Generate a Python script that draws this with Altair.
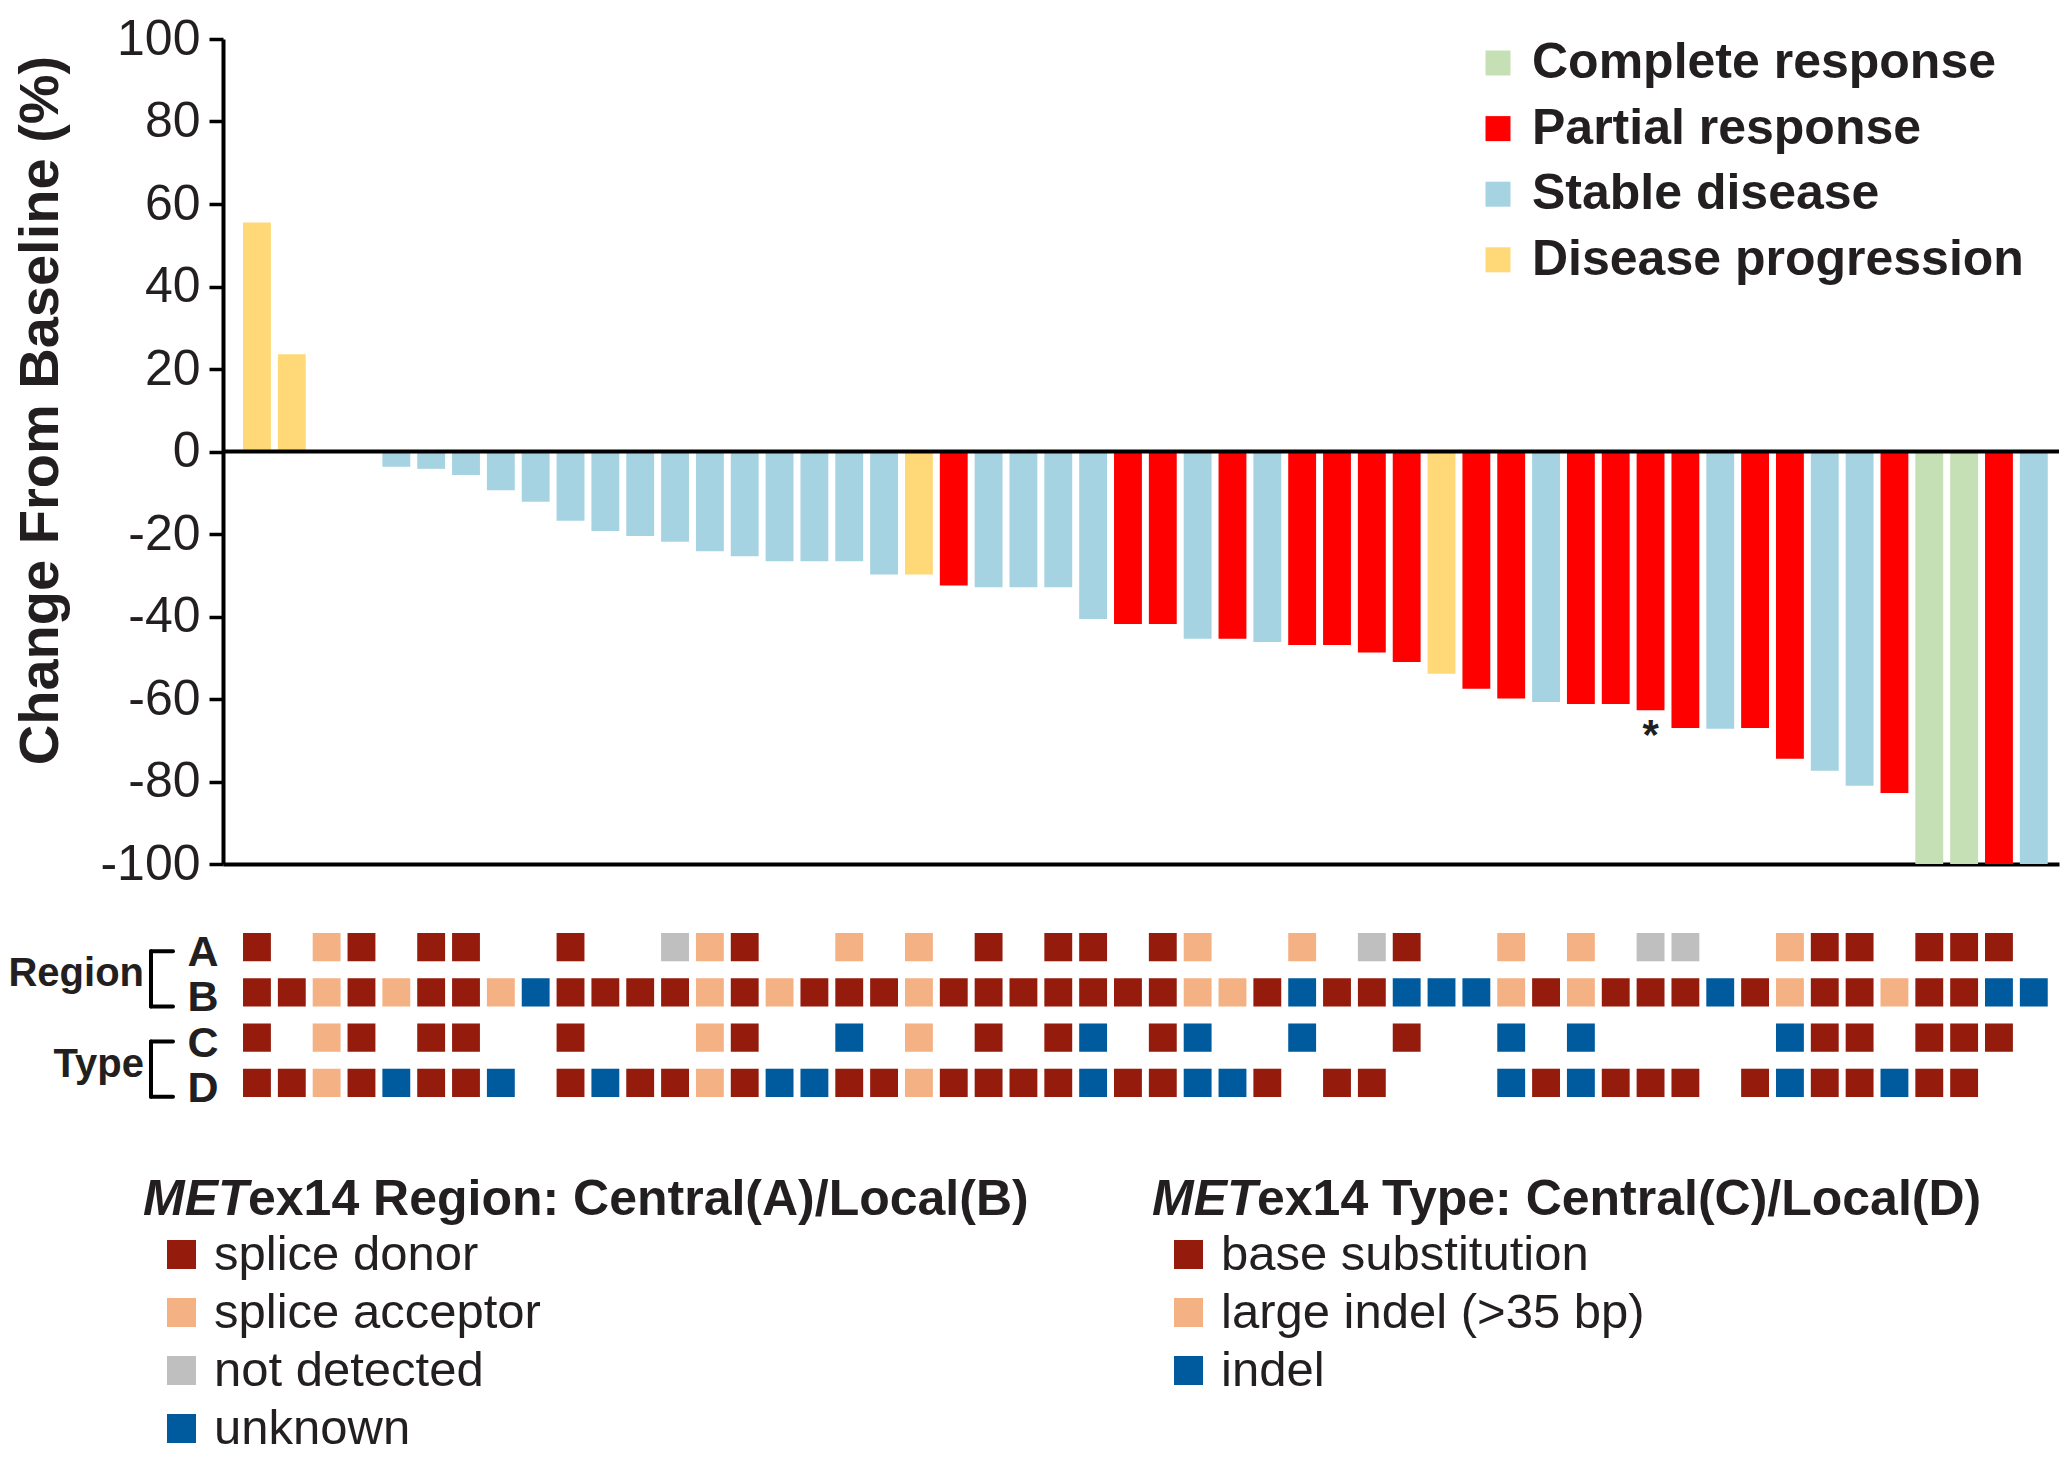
import altair as alt
import pandas as pd

FONT = "Liberation Sans, Arial, Helvetica, sans-serif"
TXT = "#231F20"

# ---------------- data ----------------
patients = [f"P{i:02d}" for i in range(1, 53)]

response = [
    "PD", "PD", None, None, "SD", "SD", "SD", "SD", "SD", "SD",
    "SD", "SD", "SD", "SD", "SD", "SD", "SD", "SD", "SD", "PD",
    "PR", "SD", "SD", "SD", "SD", "PR", "PR", "SD", "PR", "SD",
    "PR", "PR", "PR", "PR", "PD", "PR", "PR", "SD", "PR", "PR",
    "PR", "PR", "SD", "PR", "PR", "SD", "SD", "PR", "CR", "CR",
    "PR", "SD",
]

change = [
    55.5, 23.6, None, None, -3.7, -4.2, -5.7, -9.4, -12.2, -16.8,
    -19.3, -20.5, -21.9, -24.2, -25.4, -26.6, -26.6, -26.6, -29.8, -29.8,
    -32.5, -32.9, -32.9, -32.9, -40.6, -41.8, -41.8, -45.4, -45.4, -46.2,
    -46.9, -46.9, -48.7, -51.0, -53.9, -57.5, -59.9, -60.7, -61.2, -61.2,
    -62.7, -67.0, -67.2, -67.0, -74.5, -77.4, -81.0, -82.8, -100, -100,
    -100, -100,
]

notes = [""] * 40 + ["*"] + [""] * 11

# METex14 grid: d=donor/base subst, l=acceptor/large indel, g=not detected, u=unknown/indel, .=none
row_A = "d.ld.dd..d" "..gld..l.l" ".d.dd.dl.." "l.gd..l.l." "gg..ldd.dd" "d."
row_B = "ddldlddlud" "dddldldddl" "dddddddlld" "udduuuldld" "ddudlddldd" "uu"
row_C = "d.ld.dd..d" "...ld..u.l" ".d.du.du.." "u..d..u.u." "....udd.dd" "d."
row_D = "ddlduddu.d" "uddlduuddl" "ddddudduud" ".dd...udud" "dd.duddudd" ".."

resp_names = {"CR": "Complete response", "PR": "Partial response",
              "SD": "Stable disease", "PD": "Disease progression"}
resp_domain = ["Complete response", "Partial response", "Stable disease", "Disease progression"]
resp_colors = ["#C5E0B4", "#FF0000", "#A6D3E1", "#FFD878"]

region_map = {"d": "splice donor", "l": "splice acceptor", "g": "not detected", "u": "unknown"}
region_domain = ["splice donor", "splice acceptor", "not detected", "unknown"]
region_colors = ["#951C0D", "#F4B183", "#BFBFBF", "#005A9E"]

type_map = {"d": "base substitution", "l": "large indel (>35 bp)", "u": "indel"}
type_domain = ["base substitution", "large indel (>35 bp)", "indel"]
type_colors = ["#951C0D", "#F4B183", "#005A9E"]

row_names = ["A", "B", "C", "D"]

# ---------------- tables ----------------
bars_df = pd.DataFrame({
    "pt": patients,
    "change": change,
    "resp": [resp_names[r] if r else None for r in response],
    "note": notes,
})

region_rows, type_rows = [], []
for rname, codes in (("A", row_A), ("B", row_B)):
    for pt, c in zip(patients, codes):
        if c != ".":
            region_rows.append({"pt": pt, "row": rname, "cat": region_map[c]})
for rname, codes in (("C", row_C), ("D", row_D)):
    for pt, c in zip(patients, codes):
        if c != ".":
            type_rows.append({"pt": pt, "row": rname, "cat": type_map[c]})
region_df = pd.DataFrame(region_rows)
type_df = pd.DataFrame(type_rows)

W = 1836
H_BAR = 825
H_GRID = 164

def xscale():
    return alt.Scale(type="band", domain=patients, paddingInner=0.2,
                     paddingOuter=0.449, align=0.64)

def yscale_grid():
    return alt.Scale(type="band", domain=row_names, paddingInner=0.375, paddingOuter=0)

def grid_axis():
    return alt.Axis(title=None, domain=False, ticks=False, labelFont=FONT,
                    labelFontSize=43, labelFontWeight="bold", labelColor=TXT,
                    labelPadding=5, labelOffset=6)

# ---------------- waterfall ----------------
y_enc = alt.Y(
    "change:Q",
    scale=alt.Scale(domain=[-100, 100], nice=False, zero=True),
    axis=alt.Axis(
        values=list(range(-100, 101, 20)),
        labelExpr="toString(datum.value)",
        title="Change From Baseline (%)",
        titleFont=FONT, titleFontSize=56, titleFontWeight="bold", titleColor=TXT,
        titlePadding=30, titleY=371,
        labelFont=FONT, labelFontSize=50, labelColor=TXT, labelPadding=9,
        tickSize=14, tickWidth=3.5, tickColor="black",
        domainColor="black", domainWidth=4, grid=False,
        labelOverlap=False, labelFlush=False,
    ),
)
x_enc = alt.X("pt:N", scale=xscale(), sort=patients,
              axis=alt.Axis(title=None, labels=False, ticks=False, domain=True,
                            domainColor="black", domainWidth=4))

bars = alt.Chart(bars_df).mark_bar().encode(
    x=x_enc,
    y=y_enc,
    color=alt.Color(
        "resp:N",
        scale=alt.Scale(domain=resp_domain, range=resp_colors),
        legend=alt.Legend(
            orient="none", legendX=1250, legendY=-1, title=None, direction="vertical",
            symbolType="square", symbolSize=625, symbolStrokeWidth=0, symbolOpacity=1,
            labelFont=FONT, labelFontSize=50, labelFontWeight="bold", labelColor=TXT,
            labelOffset=9, rowPadding=15.6, padding=0, labelLimit=0,
        ),
    ),
)

zero = alt.Chart(pd.DataFrame({"z": [0]})).mark_rule(color="black", strokeWidth=4).encode(
    y=alt.datum(0)
)

star = alt.Chart(bars_df).transform_filter("datum.note != ''").mark_text(
    font=FONT, fontSize=42, fontWeight="bold", color=TXT, baseline="top", dy=6
).encode(x=x_enc, y=y_enc, text="note:N")

top = alt.layer(bars, zero, star).properties(width=W, height=H_BAR)

# ---------------- mutation grid ----------------
grid_x = alt.X("pt:N", scale=xscale(), sort=patients, axis=None)

region_layer = alt.Chart(region_df).mark_rect().encode(
    x=grid_x,
    y=alt.Y("row:N", scale=yscale_grid(), axis=grid_axis()),
    color=alt.Color(
        "cat:N",
        scale=alt.Scale(domain=region_domain, range=region_colors),
        legend=alt.Legend(
            orient="none", legendX=-66, legendY=297, title=None, direction="vertical",
            symbolType="square", symbolSize=841, symbolStrokeWidth=0, symbolOpacity=1,
            labelFont=FONT, labelFontSize=49, labelColor=TXT, labelOffset=8,
            rowPadding=8, padding=0, labelLimit=0,
        ),
    ),
)

type_layer = alt.Chart(type_df).mark_rect().encode(
    x=grid_x,
    y=alt.Y("row:N", scale=yscale_grid(), axis=grid_axis()),
    color=alt.Color(
        "cat:N",
        scale=alt.Scale(domain=type_domain, range=type_colors),
        legend=alt.Legend(
            orient="none", legendX=941, legendY=297, title=None, direction="vertical",
            symbolType="square", symbolSize=841, symbolStrokeWidth=0, symbolOpacity=1,
            labelFont=FONT, labelFontSize=49, labelColor=TXT, labelOffset=8,
            rowPadding=8, padding=0, labelLimit=0,
        ),
    ),
)

group_df = pd.DataFrame({"label": ["Region", "Type"], "top": ["A", "C"], "bot": ["B", "D"]})

group_text = alt.Chart(group_df).mark_text(
    font=FONT, fontSize=40, fontWeight="bold", color=TXT, align="right",
    baseline="middle", dy=27
).encode(x=alt.value(-79), y=alt.Y("top:N", scale=yscale_grid(), axis=grid_axis()),
         text="label:N")

bracket_v = alt.Chart(group_df).mark_rule(
    color="black", strokeWidth=4, yOffset=4, y2Offset=14, strokeCap="round"
).encode(x=alt.value(-72), y=alt.Y("top:N", scale=yscale_grid(), axis=grid_axis()),
         y2="bot:N")

bracket_t = alt.Chart(group_df).mark_rule(
    color="black", strokeWidth=4, yOffset=4, strokeCap="round"
).encode(x=alt.value(-72), x2=alt.value(-50),
         y=alt.Y("top:N", scale=yscale_grid(), axis=grid_axis()))

bracket_b = alt.Chart(group_df).mark_rule(
    color="black", strokeWidth=4, yOffset=14, strokeCap="round"
).encode(x=alt.value(-72), x2=alt.value(-50),
         y=alt.Y("bot:N", scale=yscale_grid(), axis=grid_axis()))

legend_titles = [
    ("MET", "italic", -80),
    ("ex14 Region: Central(A)/Local(B)", "normal", -80 + 105),
    ("MET", "italic", 929),
    ("ex14 Type: Central(C)/Local(D)", "normal", 929 + 105),
]
title_layers = [
    alt.Chart(pd.DataFrame({"t": [t]})).mark_text(
        font=FONT, fontSize=50, fontWeight="bold", fontStyle=style, color=TXT,
        align="left", baseline="alphabetic"
    ).encode(x=alt.value(xp), y=alt.value(282), text="t:N")
    for t, style, xp in legend_titles
]

grid = alt.layer(
    region_layer, type_layer, group_text, bracket_v, bracket_t, bracket_b, *title_layers
).resolve_scale(color="independent").properties(width=W, height=H_GRID)

chart = (
    alt.vconcat(top, grid, spacing=42)
    .resolve_scale(color="independent")
    .properties(padding={"left": 0, "top": 6, "right": 0, "bottom": 0}, background="white")
    .configure_view(stroke=None)
)

chart.save("out.html", embed_options={"renderer": "svg", "actions": False})
